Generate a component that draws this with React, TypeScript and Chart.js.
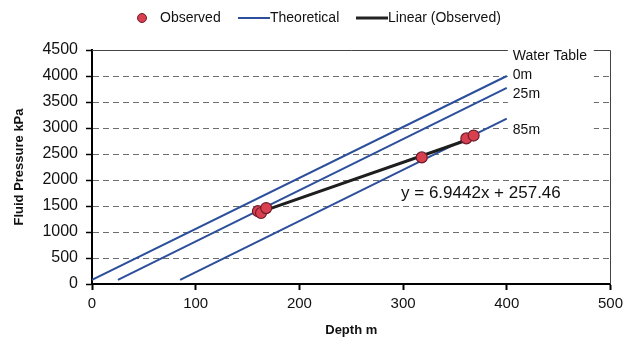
import React, { useEffect, useRef } from "react";
import { Chart, registerables } from "chart.js";

Chart.register(...registerables);

const xTickValues = [0, 100, 200, 300, 400, 500];
const yTickValues = [0, 500, 1000, 1500, 2000, 2500, 3000, 3500, 4000, 4500];

const observedDepth = [160, 163, 168, 318, 361, 368];
const observedPressure = [1400, 1365, 1460, 2435, 2800, 2855];

const theoretical0Depth = [0, 400];
const theoretical0Pressure = [80, 4000];
const theoretical25Depth = [25, 400];
const theoretical25Pressure = [80, 3770];
const theoretical85Depth = [85, 400];
const theoretical85Pressure = [80, 3180];

const trendDepth = [160, 368];
const trendPressure = [1368, 2813];

const waterTableTitle = "Water Table";
const waterTableLabels = ["0m", "25m", "85m"];
const waterTableLabelPressure = [4020, 3650, 2950];
const equationText = "y = 6.9442x + 257.46";

const legendNames = ["Observed", "Theoretical", "Linear (Observed)"];

const FONT = "'Liberation Sans', Arial, sans-serif";
const BLUE = "#2c4f9c";
const RED = "#d8404f";
const RED_BORDER = "#6e1c2a";

const toPoints = (xs: number[], ys: number[]) => xs.map((x, i) => ({ x, y: ys[i] }));

const decorPlugin = {
  id: "decor",
  beforeDatasetsDraw(chart: any) {
    const { ctx, chartArea } = chart;
    const x = chart.scales.x;
    const y = chart.scales.y;
    ctx.save();
    // plot area top and right border
    ctx.strokeStyle = "#444";
    ctx.lineWidth = 1;
    ctx.beginPath();
    ctx.moveTo(chartArea.left, Math.round(chartArea.top) + 0.5);
    ctx.lineTo(Math.round(chartArea.right) + 0.5, Math.round(chartArea.top) + 0.5);
    ctx.lineTo(Math.round(chartArea.right) + 0.5, chartArea.bottom);
    ctx.stroke();
    // white text box for water table labels
    const bx = x.getPixelForValue(401);
    ctx.fillStyle = "#fff";
    ctx.fillRect(bx, chartArea.top - 3, 86, 91);
    ctx.fillStyle = "#111";
    ctx.font = `14px ${FONT}`;
    ctx.textBaseline = "middle";
    ctx.textAlign = "left";
    ctx.fillText(waterTableTitle, bx + 5, chartArea.top + 6);
    waterTableLabels.forEach((t, i) => {
      ctx.fillText(t, bx + 5, y.getPixelForValue(waterTableLabelPressure[i]));
    });
    // equation
    ctx.font = `17px ${FONT}`;
    ctx.fillText(equationText, x.getPixelForValue(298), y.getPixelForValue(1750));
    ctx.restore();
  },
  afterDraw(chart: any) {
    const { ctx } = chart;
    ctx.save();
    const cy = 18;
    ctx.font = `14px ${FONT}`;
    ctx.textBaseline = "middle";
    ctx.textAlign = "left";
    ctx.fillStyle = "#111";
    // Observed marker
    ctx.beginPath();
    ctx.arc(142, cy, 4.5, 0, Math.PI * 2);
    ctx.fillStyle = RED;
    ctx.fill();
    ctx.lineWidth = 1;
    ctx.strokeStyle = RED_BORDER;
    ctx.stroke();
    ctx.fillStyle = "#111";
    ctx.fillText(legendNames[0], 160, cy);
    // Theoretical
    ctx.strokeStyle = BLUE;
    ctx.lineWidth = 2;
    ctx.beginPath();
    ctx.moveTo(238, cy);
    ctx.lineTo(270, cy);
    ctx.stroke();
    ctx.fillText(legendNames[1], 270, cy);
    // Linear
    ctx.strokeStyle = "#222";
    ctx.lineWidth = 3;
    ctx.beginPath();
    ctx.moveTo(356, cy);
    ctx.lineTo(388, cy);
    ctx.stroke();
    ctx.fillText(legendNames[2], 388, cy);
    ctx.restore();
  },
};

export default function App() {
  const canvasRef = useRef<HTMLCanvasElement | null>(null);

  useEffect(() => {
    document.body.style.margin = "0";
    const canvas = canvasRef.current;
    if (!canvas) return;
    const lineDs = (xs: number[], ys: number[], label: string) => ({
      type: "line" as const,
      label,
      data: toPoints(xs, ys),
      borderColor: BLUE,
      borderWidth: 2,
      pointRadius: 0,
      fill: false,
      tension: 0,
      order: 3,
    });
    const chart = new Chart(canvas, {
      type: "scatter",
      data: {
        datasets: [
          {
            type: "scatter",
            label: "Observed",
            data: toPoints(observedDepth, observedPressure),
            backgroundColor: RED,
            borderColor: RED_BORDER,
            borderWidth: 1.2,
            pointRadius: 5.5,
            order: 1,
          } as any,
          lineDs(theoretical0Depth, theoretical0Pressure, "Theoretical"),
          lineDs(theoretical25Depth, theoretical25Pressure, "Theoretical 25m"),
          lineDs(theoretical85Depth, theoretical85Pressure, "Theoretical 85m"),
          {
            type: "line",
            label: "Linear (Observed)",
            data: toPoints(trendDepth, trendPressure),
            borderColor: "#1e1e1e",
            borderWidth: 3,
            pointRadius: 0,
            fill: false,
            order: 2,
          } as any,
        ],
      },
      options: {
        animation: false,
        responsive: false,
        maintainAspectRatio: false,
        layout: { padding: { top: 50, right: 15, left: 0, bottom: 0 } },
        plugins: {
          legend: { display: false },
          tooltip: { enabled: false },
        },
        scales: {
          x: {
            type: "linear",
            min: 0,
            max: 500,
            afterFit: (s: any) => {
              s.height = 59;
            },
            afterBuildTicks: (s: any) => {
              s.ticks = xTickValues.map((v) => ({ value: v }));
            },
            ticks: {
              font: { family: FONT, size: 15 },
              color: "#111",
              padding: 5,
              callback: (v: any) => String(v),
            },
            grid: {
              drawOnChartArea: false,
              drawTicks: true,
              tickLength: 6,
              tickColor: "#000",
              tickWidth: 2,
            },
            border: { display: true, color: "#000", width: 2 },
            title: {
              display: true,
              text: "Depth m",
              font: { family: FONT, size: 13, weight: "bold" },
              color: "#111",
              padding: { top: 0, bottom: 5 },
            },
          },
          y: {
            type: "linear",
            min: 0,
            max: 4500,
            afterFit: (s: any) => {
              s.width = 92;
            },
            afterBuildTicks: (s: any) => {
              s.ticks = yTickValues.map((v) => ({ value: v }));
            },
            ticks: {
              font: { family: FONT, size: 16 },
              color: "#111",
              padding: 8,
              callback: (v: any) => String(v),
            },
            grid: {
              color: "#6e6e6e",
              lineWidth: 1,
              drawTicks: true,
              tickLength: 6,
              tickColor: "#000",
              tickWidth: 1.5,
            },
            border: { display: true, color: "#000", width: 2, dash: [6, 4] },
            title: {
              display: true,
              text: "Fluid Pressure kPa",
              font: { family: FONT, size: 13, weight: "bold" },
              color: "#111",
              padding: { top: 12, bottom: 0 },
            },
          },
        },
      },
      plugins: [decorPlugin],
    } as any);
    return () => chart.destroy();
  }, []);

  return (
    <div style={{ width: 628, height: 343 }}>
      <canvas ref={canvasRef} width={628} height={343} />
    </div>
  );
}
